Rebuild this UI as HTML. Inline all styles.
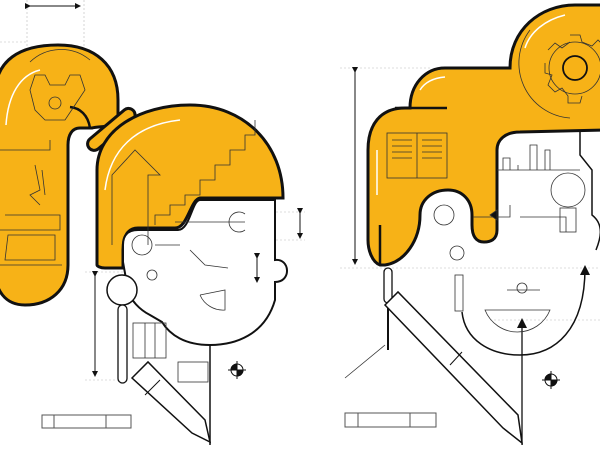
<!DOCTYPE html>
<html><head><style>html,body{margin:0;padding:0;background:#fff}svg{display:block}</style></head><body>
<svg width="600" height="450" viewBox="0 0 600 450" xmlns="http://www.w3.org/2000/svg" font-family="Liberation Sans, sans-serif">
<defs>
<marker id="ah" markerWidth="6" markerHeight="6" refX="5" refY="3" orient="auto"><path d="M0,0L6,3L0,6z" fill="#111"/></marker>
</defs>
<g stroke="#bbb" stroke-width="0.6" fill="none" stroke-dasharray="2 2">
<line x1="27" y1="0" x2="27" y2="60"/><line x1="84" y1="0" x2="84" y2="110"/>
<line x1="0" y1="42" x2="27" y2="42"/>
<line x1="340" y1="68" x2="430" y2="68"/><line x1="340" y1="268" x2="600" y2="268"/>
<line x1="85" y1="272" x2="130" y2="272"/><line x1="85" y1="380" x2="125" y2="380"/>
<line x1="260" y1="212" x2="305" y2="212"/><line x1="260" y1="240" x2="305" y2="240"/>
<line x1="490" y1="320" x2="600" y2="320"/>
</g>
<!-- LEFT FIGURE -->
<path d="M-5,95 C-5,60 20,45 58,45 C95,45 118,65 118,100 L118,120 C112,128 100,126 92,128 L80,128 C72,128 68,135 68,145 L68,265 C68,290 50,305 25,305 C5,305 -5,290 -5,270 Z" fill="#F7B217" stroke="#111" stroke-width="3"/>
<path d="M70,107 C80,108 88,115 90,128" fill="none" stroke="#111" stroke-width="2.5"/>
<rect x="82" y="123" width="58" height="13" rx="6.5" transform="rotate(-40 111 129)" fill="#F7B217" stroke="#111" stroke-width="3"/>
<path d="M97,265 L97,170 C97,130 140,105 190,105 C245,105 283,145 283,198 L200,198 C190,200 188,228 175,228 L138,228 C128,228 123,236 123,250 L123,268 L105,268 C100,268 97,266 97,265 Z" fill="#F7B217" stroke="#111" stroke-width="3"/>
<path d="M123,262 L123,245 C123,235 128,230 138,230 L178,230 C190,230 192,200 200,200 L275,200 L275,260 C290,258 292,282 275,282 L275,300 C265,335 235,345 210,345 C185,345 170,335 162,322 L150,315 C140,310 130,300 128,290 Z" fill="#fff" stroke="#111" stroke-width="2"/>
<line x1="210" y1="345" x2="210" y2="445" stroke="#111" stroke-width="1.5"/>
<circle cx="122" cy="290" r="15" fill="#fff" stroke="#111" stroke-width="1.5"/>
<rect x="118" y="305" width="9" height="78" rx="4.5" fill="#fff" stroke="#111" stroke-width="1.3"/>
<g stroke="#333" fill="none" stroke-width="0.8">
<rect x="133" y="323" width="33" height="35"/><line x1="145" y1="323" x2="145" y2="358"/><line x1="155" y1="323" x2="155" y2="358"/>
<rect x="178" y="362" width="30" height="20"/>
<circle cx="142" cy="245" r="10"/><circle cx="152" cy="275" r="5"/>
<path d="M155,245 L180,245 M190,250 L205,265 L228,268"/>
<path d="M200,295 L225,290 L225,310 A25,25 0 0 1 200,295"/>
<path d="M175,222 L245,222 M245,214 A10,10 0 1 0 245,230"/>
<path d="M112,245 L112,175 L135,150 L160,175 L148,175 L148,245"/>
<path d="M155,225 L155,215 L170,215 L170,205 L185,205 L185,195 L200,195 L200,180 L215,180 L215,165 L230,165 L230,150 L245,150 L245,135 L255,135 L255,120"/>
<path d="M30,62 A45,45 0 0 1 90,60 M30,90 L35,75 L45,75 L50,85 L65,85 L70,75 L80,75 L85,90 L75,105 L65,120 L45,120 L35,110 Z"/>
<circle cx="55" cy="103" r="6"/>
<path d="M0,150 L50,150 L50,140 M5,215 L60,215 L60,230 L0,230 M8,235 L55,235 L55,260 L5,260 Z M0,265 L62,265"/>
<path d="M35,165 L40,190 L30,195 L40,205 M42,170 L45,195"/>
</g>
<rect x="42" y="415" width="89" height="13" fill="#fff" stroke="#555" stroke-width="1"/>
<line x1="54" y1="415" x2="54" y2="428" stroke="#555"/><line x1="106" y1="415" x2="106" y2="428" stroke="#555"/>
<path d="M132,378 L148,362 L205,420 L210,442 L192,433 Z" fill="#fff" stroke="#111" stroke-width="1.5"/>
<line x1="145" y1="395" x2="160" y2="380" stroke="#111" stroke-width="1"/>
<g stroke="#111" stroke-width="1" fill="none" marker-end="url(#ah)" marker-start="url(#ah)">
<line x1="30" y1="6" x2="80" y2="6"/><line x1="95" y1="276" x2="95" y2="376"/>
<line x1="300" y1="213" x2="300" y2="238"/><line x1="257" y1="258" x2="257" y2="282"/>
<line x1="355" y1="72" x2="355" y2="264"/>
</g>
<g stroke="#111" stroke-width="1"><circle cx="237" cy="370" r="6" fill="#fff"/><path d="M237,370 L243,370 A6,6 0 0 1 237,376Z M237,370 L231,370 A6,6 0 0 1 237,364Z" fill="#111"/><line x1="228" y1="370" x2="246" y2="370"/><line x1="237" y1="361" x2="237" y2="379"/></g>
<path d="M6,125 C8,95 20,75 40,70" fill="none" stroke="#fff" stroke-width="1.5"/>
<path d="M105,190 C110,150 135,125 180,120" fill="none" stroke="#fff" stroke-width="1.5"/>
<!-- RIGHT FIGURE -->
<path d="M368,150 C368,125 380,108 405,108 L410,108 C410,85 425,68 445,68 L510,68 C510,30 540,5 575,5 L605,5 L605,130 L520,132 C505,132 497,140 497,150 L497,230 C497,240 490,242 484,242 C476,242 472,236 472,225 L472,215 C472,200 462,190 448,190 C432,190 420,200 420,215 C420,240 405,262 385,265 L380,265 C372,262 368,250 368,240 Z" fill="#F7B217" stroke="#111" stroke-width="3"/>
<line x1="380" y1="225" x2="380" y2="265" stroke="#111" stroke-width="2.5"/>
<line x1="395" y1="108" x2="447" y2="108" stroke="#111" stroke-width="2.5"/>
<path d="M580,132 L580,155 L592,170 L592,215 C605,225 600,240 596,250" fill="none" stroke="#111" stroke-width="1.5"/>
<path d="M462,312 C465,340 490,355 520,355 C555,355 585,330 585,268" fill="none" stroke="#111" stroke-width="1.5"/>
<line x1="522" y1="320" x2="522" y2="445" stroke="#111" stroke-width="1.3"/>
<path d="M517,328 L522,318 L527,328Z M580,275 L585,265 L590,275Z" fill="#111"/>
<g stroke="#333" fill="none" stroke-width="0.8">
<circle cx="575" cy="68" r="12" stroke="#111" stroke-width="1.8"/>
<path d="M570,35 L580,35 L582,42 L592,46 L598,40 L605,47 M545,63 L545,73 L552,75 L548,85 L555,92 L562,88 L568,96 L568,103 L580,103 L582,96 M548,50 L555,43 L562,48 L570,42"/>
<circle cx="575" cy="68" r="26"/>
<path d="M530,30 A55,55 0 0 0 570,118"/>
<rect x="387" y="133" width="60" height="45"/><line x1="417" y1="133" x2="417" y2="178"/>
<path d="M392,140 L412,140 M392,146 L412,146 M392,152 L412,152 M392,158 L412,158 M422,140 L442,140 M422,146 L442,146 M422,152 L442,152 M422,158 L442,158"/>
<path d="M497,170 L580,170 M503,170 L503,158 L510,158 L510,170 M518,170 L518,165 M530,170 L530,145 L537,145 L537,170 M545,170 L545,150 L550,150 L550,170"/>
<circle cx="568" cy="190" r="17"/><rect x="560" y="208" width="16" height="24"/>
<path d="M473,217 L510,217 L510,205 M520,217 L566,217 L566,232"/>
<path d="M490,215 L497,210 L497,220Z" fill="#111"/>
<circle cx="444" cy="215" r="10"/><circle cx="457" cy="253" r="7"/>
<rect x="455" y="275" width="8" height="36"/>
<path d="M485,310 A35,35 0 0 0 550,310 Z M507,290 L540,290"/>
<circle cx="522" cy="288" r="5"/>
</g>
<rect x="384" y="268" width="8" height="35" rx="4" fill="#fff" stroke="#111" stroke-width="1.3"/>
<line x1="388" y1="303" x2="388" y2="350" stroke="#111" stroke-width="2"/>
<line x1="345" y1="378" x2="385" y2="345" stroke="#333" stroke-width="0.8"/>
<path d="M385,305 L398,292 L518,415 L522,443 L503,428 Z" fill="#fff" stroke="#111" stroke-width="1.5"/>
<line x1="450" y1="365" x2="462" y2="352" stroke="#111" stroke-width="1"/>
<rect x="345" y="413" width="91" height="14" fill="#fff" stroke="#555" stroke-width="1"/>
<line x1="358" y1="413" x2="358" y2="427" stroke="#555"/><line x1="410" y1="413" x2="410" y2="427" stroke="#555"/>
<g stroke="#111" stroke-width="1"><circle cx="551" cy="380" r="6" fill="#fff"/><path d="M551,380 L557,380 A6,6 0 0 1 551,386Z M551,380 L545,380 A6,6 0 0 1 551,374Z" fill="#111"/><line x1="542" y1="380" x2="560" y2="380"/><line x1="551" y1="371" x2="551" y2="389"/></g>
<path d="M377,195 L377,150" stroke="#fff" stroke-width="1.5"/>
<path d="M420,90 C425,82 433,78 445,77" fill="none" stroke="#fff" stroke-width="1.5"/>
<path d="M525,48 C530,32 545,20 565,15" fill="none" stroke="#fff" stroke-width="1.5"/>
</svg>
</body></html>
